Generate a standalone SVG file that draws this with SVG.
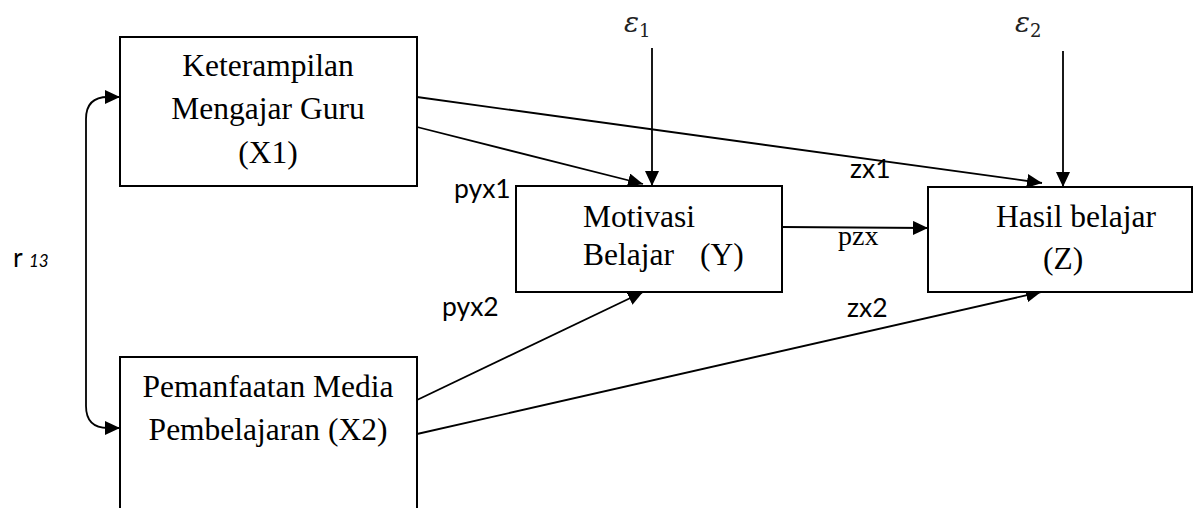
<svg xmlns="http://www.w3.org/2000/svg" width="1194" height="508" viewBox="0 0 1194 508">
  <style>
    .box { fill: #ffffff; stroke: #000000; stroke-width: 2; }
    .node { font-family: "Liberation Serif", "Times New Roman", serif; font-size: 31.5px; fill: #000000; }
    .lbl { font-family: Lato, "Open Sans", "Liberation Sans", sans-serif; font-size: 26.5px; fill: #000000; }
    .lbl-serif { font-family: "Liberation Serif", "Times New Roman", serif; font-size: 28px; fill: #000000; }
    .err { font-family: "DejaVu Serif", "Liberation Serif", serif; font-style: italic; font-size: 28px; fill: #222222; }
    .edge { fill: none; stroke: #000000; stroke-width: 1.8; }
  </style>
  <defs>
    <marker id="arrow" markerUnits="userSpaceOnUse" markerWidth="15" markerHeight="14" viewBox="0 0 15 14" refX="15" refY="7" orient="auto-start-reverse">
      <path d="M0,0 L15,7 L0,14 z" fill="#000000"/>
    </marker>
  </defs>

  <rect width="1194" height="508" fill="#ffffff"/>

  <!-- connectors -->
  <g id="connectors">
    <path class="edge" d="M652,48 L652,186" marker-end="url(#arrow)"/>
    <path class="edge" d="M1063,51 L1063,187" marker-end="url(#arrow)"/>
    <path class="edge" d="M417,97 L1042,183" marker-end="url(#arrow)"/>
    <path class="edge" d="M417,127 L643,184" marker-end="url(#arrow)"/>
    <path class="edge" d="M417,400 L643,292" marker-end="url(#arrow)"/>
    <path class="edge" d="M417,434 L1041,292" marker-end="url(#arrow)"/>
    <path class="edge" d="M782,227 L928,228" marker-end="url(#arrow)"/>
    <path class="edge" d="M120,428 L108,428 Q86,428 86,406 L86,119 Q86,97 108,97 L120,97" marker-start="url(#arrow)" marker-end="url(#arrow)"/>
  </g>

  <!-- path labels -->
  <g id="labels">
    <text class="lbl" x="13" y="267" font-size="28">r <tspan font-style="italic" font-size="17">13</tspan></text>
    <text class="lbl" x="454" y="198">pyx1</text>
    <text class="lbl" x="442" y="316">pyx2</text>
    <text class="lbl" x="850" y="178">zx1</text>
    <text class="lbl" x="847" y="317">zx2</text>
    <text class="lbl-serif" x="838" y="245">pzx</text>
    <text class="err" x="624" y="32">ε<tspan font-style="normal" font-size="18" dy="5">1</tspan></text>
    <text class="err" x="1015" y="32">ε<tspan font-style="normal" font-size="18" dy="5">2</tspan></text>
  </g>

  <!-- X1 -->
  <g id="node-x1">
    <rect class="box" x="120" y="37" width="297" height="149"/>
    <text class="node" text-anchor="middle" x="268" y="76">Keterampilan</text>
    <text class="node" text-anchor="middle" x="268" y="119">Mengajar Guru</text>
    <text class="node" text-anchor="middle" x="268" y="163">(X1)</text>
  </g>

  <!-- X2 -->
  <g id="node-x2">
    <rect class="box" x="120" y="357" width="297" height="160"/>
    <text class="node" text-anchor="middle" x="268" y="397">Pemanfaatan Media</text>
    <text class="node" text-anchor="middle" x="268" y="440">Pembelajaran (X2)</text>
  </g>

  <!-- Y -->
  <g id="node-y">
    <rect class="box" x="516" y="186" width="266" height="106"/>
    <text class="node" x="583" y="227">Motivasi</text>
    <text class="node" x="583" y="265">Belajar<tspan x="700">(Y)</tspan></text>
  </g>

  <!-- Z -->
  <g id="node-z">
    <rect class="box" x="928" y="187" width="264" height="105"/>
    <text class="node" x="996" y="227">Hasil belajar</text>
    <text class="node" x="1043" y="269">(Z)</text>
  </g>
</svg>
